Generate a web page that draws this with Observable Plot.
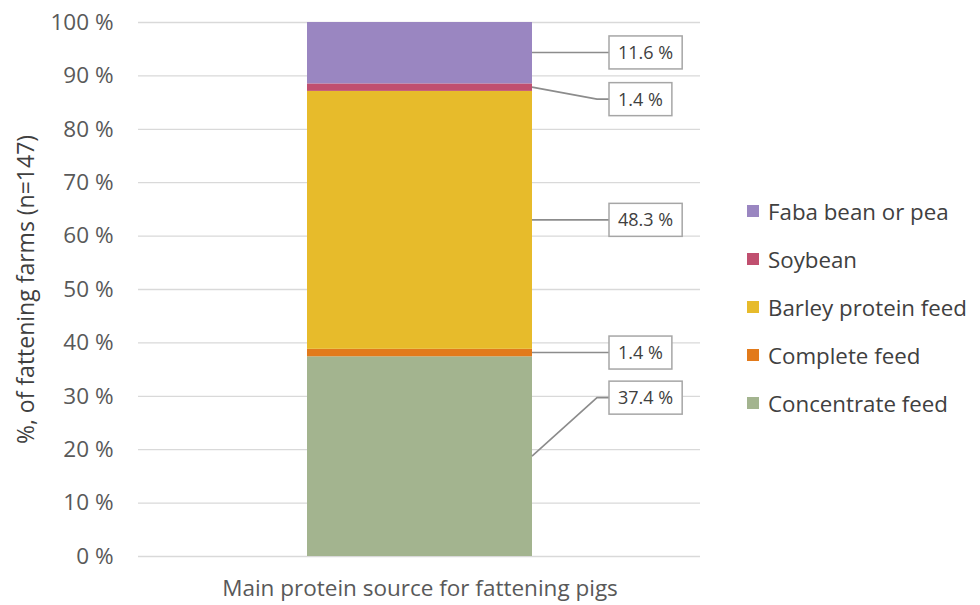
<!DOCTYPE html>
<html>
<head>
<meta charset="utf-8">
<script src="https://cdn.jsdelivr.net/npm/d3@7"></script>
<script src="https://cdn.jsdelivr.net/npm/@observablehq/plot@0.6"></script>
<style>
  body { margin: 0; background: #fff; }
  #chart { position: relative; width: 980px; height: 605px; font-family: "Open Sans", sans-serif; }
  #legend { position: absolute; left: 747px; top: 187px; }
  .item { display: flex; align-items: center; height: 48px; font-size: 22.3px; color: #404040; }
  .swatch { width: 12px; height: 12px; margin-right: 9px; }
</style>
</head>
<body>
<div id="chart"><div id="legend"></div></div>
<script>
// Main protein source on fattening-pig farms, share of farms (%)
const categories = ["Main protein source for fattening pigs"];
// stacked bottom to top
const sources = ["Concentrate feed", "Complete feed", "Barley protein feed", "Soybean", "Faba bean or pea"];
const shares = [37.4, 1.4, 48.3, 1.4, 11.6];
const colors = ["#a3b48f", "#e27a1b", "#e7bb2b", "#c04f6f", "#9a86c1"];
const yTicks = [0, 10, 20, 30, 40, 50, 60, 70, 80, 90, 100];
const legendOrder = ["Faba bean or pea", "Soybean", "Barley protein feed", "Complete feed", "Concentrate feed"];

// vertical nudge (px) of each value callout relative to its segment's middle
const calloutNudge = [-58.5, 0, 0, 12, 0];

const rows = sources.map((s, i) => ({category: categories[0], source: s, share: shares[i]}));

// segment midpoints from cumulative shares
let acc = 0;
const mids = shares.map(v => { const m = acc + v / 2; acc += v; return m; });

const font = "'Open Sans', sans-serif";

const chart = Plot.plot({
  width: 980,
  height: 605,
  marginTop: 22,
  marginBottom: 49,
  marginLeft: 138,
  marginRight: 280,
  style: {fontFamily: font, fontSize: "22.5px", color: "#595959", background: "#fff"},
  x: {domain: categories, padding: 0.4286, tickSize: 0, tickPadding: 24, label: null},
  y: {domain: [0, 100], ticks: yTicks, tickFormat: d => d + " %", tickSize: 0, tickPadding: 25, label: null},
  color: {domain: sources, range: colors},
  marks: [
    Plot.ruleY(yTicks, {stroke: "#d9d9d9", strokeWidth: 1.3}),
    Plot.barY(rows, {x: "category", y: "share", fill: "source", clip: true}),
    // axis title, centred on the frame
    Plot.text(["%, of fattening farms (n=147)"], {
      frameAnchor: "left", textAnchor: "middle", dx: -112, rotate: -90, fontSize: 23, fill: "#404040"
    })
  ]
});

document.getElementById("chart").prepend(chart);

// value callouts: leader lines and boxed labels, placed with the plot's scales
const xs = chart.scale("x"), ys = chart.scale("y");
const barRight = xs.apply(categories[0]) + xs.bandwidth;
const svg = d3.select(chart);
const g = svg.append("g")
  .attr("font-family", font).attr("font-size", 18).attr("text-anchor", "start");

shares.forEach((v, i) => {
  const y0 = ys.apply(mids[i]);
  const yl = y0 + calloutNudge[i];
  const boxLeft = barRight + 77;
  const elbow = boxLeft - 12;
  g.append("polyline")
    .attr("points", `${barRight},${y0} ${elbow},${yl} ${boxLeft},${yl}`)
    .attr("fill", "none").attr("stroke", "#8c8c8c").attr("stroke-width", 1.6);
  const box = g.append("rect");
  const t = g.append("text")
    .attr("x", boxLeft + 9).attr("y", yl).attr("dy", "0.36em")
    .attr("fill", "#404040")
    .text(v.toFixed(1) + " %");
  const bb = t.node().getBBox();
  box.attr("x", boxLeft).attr("y", yl - 16.5)
    .attr("width", bb.width + 18).attr("height", 33)
    .attr("fill", "#fff").attr("stroke", "#a6a6a6").attr("stroke-width", 1.5);
});

// legend
const legend = d3.select("#legend");
legendOrder.forEach(s => {
  const item = legend.append("div").attr("class", "item");
  item.append("div").attr("class", "swatch").style("background", colors[sources.indexOf(s)]);
  item.append("span").text(s);
});
</script>
</body>
</html>
